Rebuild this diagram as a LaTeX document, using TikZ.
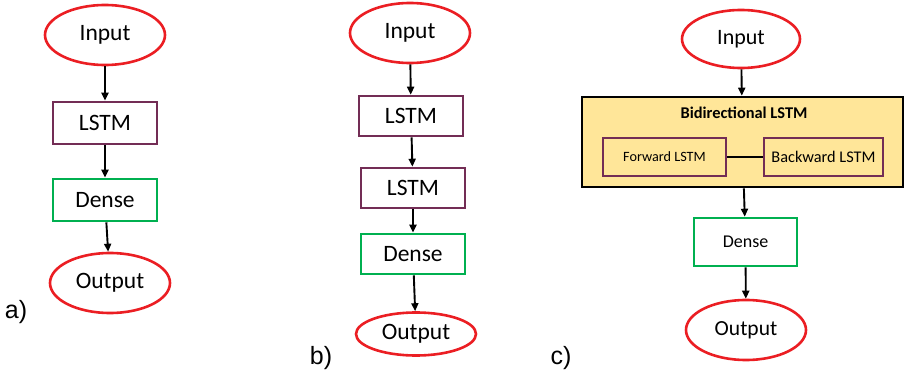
\documentclass[tikz,border=0pt]{standalone}
\usepackage{fontspec}
\setmainfont{Carlito}
\newfontfamily\arialfont{Liberation Sans}
\usetikzlibrary{arrows.meta,shapes.geometric}
\definecolor{ellred}{RGB}{235,30,35}
\definecolor{lstmpurple}{RGB}{115,45,85}
\definecolor{densegreen}{RGB}{0,176,80}
\definecolor{bifill}{RGB}{255,230,153}
\tikzset{
  ell/.style={ellipse, draw=ellred, line width=2.6pt, minimum width=120pt, minimum height=60pt, inner sep=0pt, font=\fontsize{23.5}{25}\selectfont},
  lstmbox/.style={rectangle, draw=lstmpurple, line width=2.6pt, minimum width=104pt, minimum height=42pt, inner sep=0pt, font=\fontsize{23.5}{25}\selectfont},
  densebox/.style={rectangle, draw=densegreen, line width=2.6pt, minimum width=104pt, minimum height=42pt, inner sep=0pt, font=\fontsize{23.5}{25}\selectfont},
  arr/.style={-{Triangle[length=8pt,width=7pt]}, line width=1.9pt},
  lab/.style={font=\arialfont\fontsize{25}{28}\selectfont, inner sep=0pt},
}
\begin{document}
\begin{tikzpicture}[x=1pt,y=-1pt]
\useasboundingbox (0,0) rectangle (905,377);
% panel a
\node[ell] (ainput) at (105,35) {Input};
\node[lstmbox] (alstm) at (105,123) {LSTM};
\node[densebox] (adense) at (105,200) {Dense};
\node[ell] (aoutput) at (110,283) {Output};
\draw[arr] (ainput) -- (alstm);
\draw[arr] (alstm) -- (adense);
\draw[arr] (adense) -- (aoutput);
\node[lab] (alab) at (16,312) {a)};
% panel b
\node[ell] (binput) at (410,33) {Input};
\node[lstmbox, minimum height=40pt] (blstma) at (411,116) {LSTM};
\node[lstmbox, minimum height=40pt] (blstmb) at (413,188) {LSTM};
\node[densebox, minimum height=40pt] (bdense) at (413,254) {Dense};
\node[ell, minimum height=43pt] (boutput) at (416,334) {Output};
\draw[arr] (binput) -- (blstma);
\draw[arr] (blstma) -- (blstmb);
\draw[arr] (blstmb) -- (bdense);
\draw[arr] (bdense) -- (boutput);
\node[lab] (blab) at (321,358) {b)};
% panel c
\node[ell, minimum width=118pt, minimum height=58pt, font=\fontsize{22}{24}\selectfont] (cinput) at (741,39) {Input};
\node[rectangle, draw=black, fill=bifill, line width=2.6pt, minimum width=321pt, minimum height=90pt] (cbi) at (742.5,142) {};
\node[font=\bfseries\fontsize{16.4}{18}\selectfont, inner sep=0pt] (cbititle) at (744,113) {Bidirectional LSTM};
\node[lstmbox, minimum width=123pt, minimum height=38pt, font=\fontsize{14.2}{16}\selectfont] (cfw) at (664.5,157) {Forward LSTM};
\node[lstmbox, minimum width=119pt, minimum height=38pt, font=\fontsize{16.3}{18}\selectfont] (cbw) at (823.5,157) {Backward LSTM};
\draw[line width=2.2pt] (cfw) -- (cbw);
\node[densebox, minimum width=103pt, minimum height=48pt, font=\fontsize{18}{20}\selectfont] (cdense) at (745.5,242) {Dense};
\node[ell, font=\fontsize{21.5}{23}\selectfont] (coutput) at (746,330) {Output};
\draw[arr] (cinput) -- (cbi);
\draw[arr] (cbi) -- (cdense);
\draw[arr] (cdense) -- (coutput);
\node[lab] (clab) at (561,358) {c)};
\end{tikzpicture}
\end{document}
